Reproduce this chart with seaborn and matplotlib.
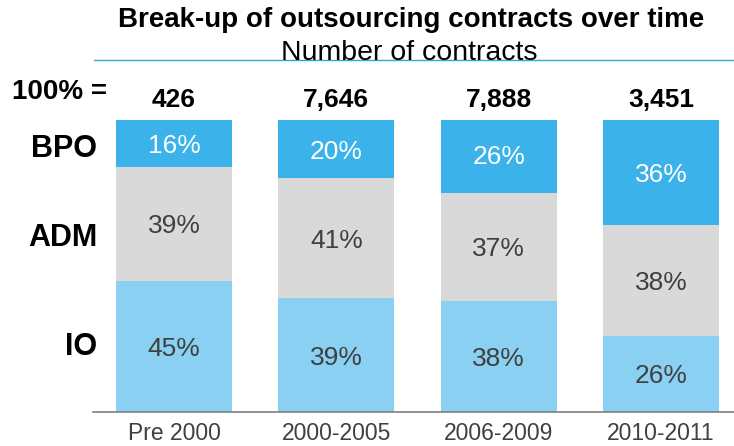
import matplotlib
matplotlib.use("Agg")
import matplotlib.pyplot as plt
from matplotlib.lines import Line2D
from matplotlib.transforms import offset_copy
import seaborn as sns
import pandas as pd
import numpy as np

categories = ["Pre 2000", "2000-2005", "2006-2009", "2010-2011"]
totals = ["426", "7,646", "7,888", "3,451"]
io_pct = [45, 39, 38, 26]
adm_pct = [39, 41, 37, 38]
bpo_pct = [16, 20, 26, 36]
segments = ["IO", "ADM", "BPO"]

sns.set_theme(style="white")
plt.rcParams["font.family"] = ["Liberation Sans", "DejaVu Sans"]

colors = {"IO": "#89D0F2", "ADM": "#D9D9D9", "BPO": "#3BB3EA"}
text_colors = {"IO": "#404040", "ADM": "#404040", "BPO": "white"}

df = pd.DataFrame({"category": categories, "IO": io_pct, "ADM": adm_pct, "BPO": bpo_pct})

W, H = 734, 446
fig = plt.figure(figsize=(W / 100, H / 100), dpi=100)
ax = fig.add_axes([93 / W, (H - 412) / H, 641 / W, 292 / H])

pct_fs = 19
pct_tr = offset_copy(ax.transData, fig=fig, y=-0.358 * pct_fs, units="points")

bottom = np.zeros(len(categories))
for seg in segments:
    vals = df[seg].to_numpy(dtype=float)
    sns.barplot(data=df, x="category", y=seg, order=categories, color=colors[seg],
                bottom=bottom, width=0.715, ax=ax, saturation=1, linewidth=0)
    for i, v in enumerate(vals):
        ax.text(i, bottom[i] + v / 2, f"{int(v)}%", ha="center", va="baseline",
                fontsize=pct_fs, color=text_colors[seg], transform=pct_tr)
    bottom = bottom + vals

for i, t in enumerate(totals):
    ax.text(i, (412 - 107) / 2.92, t, ha="center", va="baseline", fontsize=19,
            fontweight="bold", color="black", clip_on=False)

ax.set_xlim(-0.499, 3.45)
ax.set_ylim(0, 100)
ax.set_xlabel("")
ax.set_ylabel("")
ax.set_yticks([])
ax.tick_params(axis="x", length=0, labelsize=16.5, labelcolor="#404040", pad=7)
for s in ["top", "left", "right"]:
    ax.spines[s].set_visible(False)
ax.spines["bottom"].set_color("#7F7F7F")
ax.spines["bottom"].set_linewidth(1.2)

# row labels
for lab, base in [("BPO", 157), ("ADM", 246), ("IO", 355)]:
    fig.text(97 / W, 1 - base / H, lab, ha="right", va="baseline", fontsize=22,
             fontweight="bold", color="black")
fig.text(12 / W, 1 - 99 / H, "100% =", ha="left", va="baseline", fontsize=20,
         fontweight="bold", color="black")

fig.text(411 / W, 1 - 27 / H, "Break-up of outsourcing contracts over time", ha="center",
         va="baseline", fontsize=20, fontweight="bold", color="black")
fig.text(409 / W, 1 - 60 / H, "Number of contracts", ha="center", va="baseline",
         fontsize=20.5, color="black")
fig.add_artist(Line2D([94 / W, 1.0], [1 - 59.5 / H, 1 - 59.5 / H], color="#29ABE2", lw=1.0,
                      transform=fig.transFigure))

fig.savefig("out.png", dpi=100)
